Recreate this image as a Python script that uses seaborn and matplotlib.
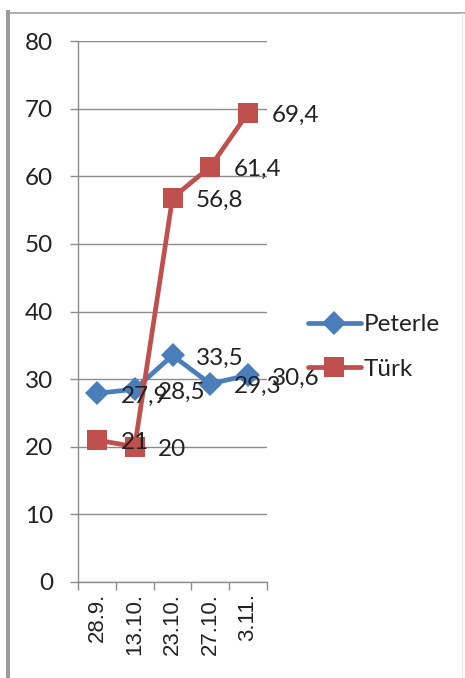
import matplotlib
matplotlib.use("Agg")
import matplotlib.pyplot as plt
from matplotlib.lines import Line2D
from matplotlib.patches import Rectangle
import seaborn as sns
import pandas as pd

dates = ["28.9.", "13.10.", "23.10.", "27.10.", "3.11."]
peterle = [27.9, 28.5, 33.5, 29.3, 30.6]
turk = [21, 20, 56.8, 61.4, 69.4]
series_names = ["Peterle", "Türk"]
y_ticks = [0, 10, 20, 30, 40, 50, 60, 70, 80]

sns.set_theme(style="white")
plt.rcParams["font.family"] = ["Lato", "DejaVu Sans"]

W, H = 465, 678
fig = plt.figure(figsize=(W / 100, H / 100), dpi=100)
fig.patch.set_facecolor("white")

# outer frame pieces
fig.patches.append(Rectangle((6 / W, -0.01), 4 / W, 1.01 - 10 / H, transform=fig.transFigure,
                             facecolor="#9a9a9a", edgecolor="none", zorder=0))
fig.add_artist(Line2D([10 / W, 1], [1 - 12.5 / H, 1 - 12.5 / H], transform=fig.transFigure,
                      color="#a8a8a8", lw=1.3))
fig.add_artist(Line2D([462 / W, 462 / W], [0, 1 - 13 / H], transform=fig.transFigure,
                      color="#ececec", lw=1.0))

ax = fig.add_axes([78 / W, 1 - 582 / H, (267 - 78) / W, (582 - 41) / H])

pos = list(range(len(dates)))
df = pd.DataFrame({
    "pos": pos * 2,
    "value": peterle + turk,
    "series": [series_names[0]] * len(dates) + [series_names[1]] * len(dates),
})

colors = {"Peterle": "#4a7ebb", "Türk": "#c0504d"}
markers = {"Peterle": "D", "Türk": "s"}
sizes = {"Peterle": 12, "Türk": 14}

for name in series_names:
    sub = df[df["series"] == name]
    sns.lineplot(data=sub, x="pos", y="value", ax=ax, color=colors[name],
                 linewidth=3.4, marker=markers[name], markersize=sizes[name],
                 markeredgewidth=0, markerfacecolor=colors[name], label=name,
                 legend=False, zorder=3)

# data labels
for name, vals in (("Peterle", peterle), ("Türk", turk)):
    for x, v in zip(pos, vals):
        ax.annotate(f"{v:g}".replace(".", ","), (x, v), xytext=(17, -2),
                    textcoords="offset points", ha="left", va="center",
                    fontsize=17.5, color="#222222", zorder=4)

ax.set_xlim(-0.5, len(dates) - 0.5)
ax.set_ylim(0, 80)
ax.set_yticks(y_ticks)
ax.set_yticklabels([str(t) for t in y_ticks], fontsize=17.5, color="#222222")
ax.yaxis.grid(True, color="#8c8c8c", linewidth=1.0)
ax.set_axisbelow(True)

ax.set_xticks(pos)
ax.set_xticklabels(dates, rotation=90, fontsize=16, color="#222222",
                   family=["Liberation Sans", "DejaVu Sans"])
ax.set_xticks([p - 0.5 for p in pos] + [len(dates) - 0.5], minor=True)
ax.tick_params(axis="x", which="major", length=0, pad=8)
ax.tick_params(axis="x", which="minor", length=6, width=1, color="#8c8c8c",
               direction="out", bottom=True)
ax.tick_params(axis="y", which="major", length=6, width=1, color="#8c8c8c",
               direction="out", left=True, pad=12)
ax.set_xlabel("")
ax.set_ylabel("")

for side in ("top", "right"):
    ax.spines[side].set_visible(False)
for side in ("left", "bottom"):
    ax.spines[side].set_color("#8c8c8c")
    ax.spines[side].set_linewidth(1.0)

handles = [Line2D([], [], color=colors[n], lw=3.4, marker=markers[n],
                  markersize=sizes[n], markeredgewidth=0) for n in series_names]
fig.legend(handles, series_names, loc="center left",
           bbox_to_anchor=(298 / W, 1 - 347 / H), frameon=False, fontsize=17.5,
           handlelength=2.2, handletextpad=0.1, labelspacing=0.95,
           labelcolor="#222222", borderaxespad=0)

fig.savefig("out.png", dpi=100, facecolor="white")
